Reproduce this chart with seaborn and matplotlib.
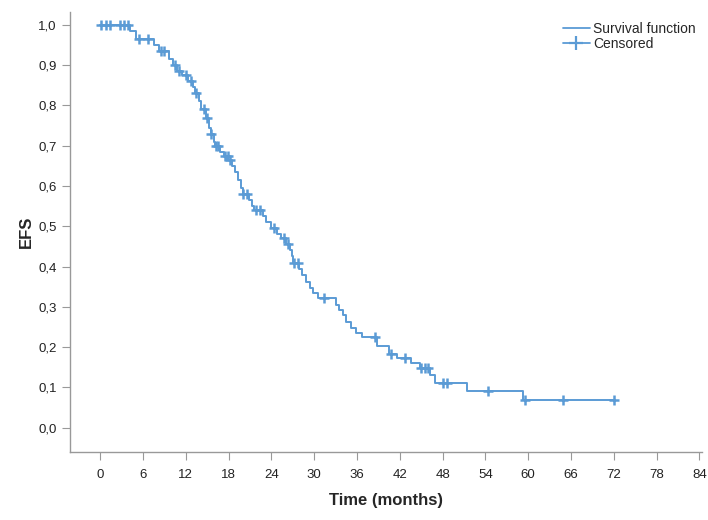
import matplotlib
matplotlib.use("Agg")
import matplotlib.pyplot as plt
import seaborn as sns
import pandas as pd
from matplotlib.lines import Line2D
from matplotlib.ticker import FuncFormatter

# Kaplan-Meier step points (time in months, survival after the step)
event_time = [0, 4.2, 5.0, 7.5, 8.2, 9.6, 10.2, 10.8, 11.5, 12.3, 13.0, 13.3,
              13.8, 14.2, 14.8, 15.3, 15.6, 15.9, 16.1, 16.8, 17.3, 17.8,
              18.5, 18.9, 19.3, 19.7, 20.0, 20.9, 21.3, 21.6, 22.8, 23.3,
              23.9, 24.8, 25.3, 26.0, 26.6, 26.9, 27.1, 27.9, 28.3, 28.8,
              29.4, 29.9, 30.5, 33.0, 33.5, 34.0, 34.5, 35.2, 35.8, 36.7,
              38.8, 40.5, 41.6, 43.6, 44.8, 46.3, 46.9, 51.4, 59.2, 72.0]
survival = [1.0, 0.985, 0.965, 0.95, 0.935, 0.915, 0.90, 0.885, 0.875, 0.86,
            0.845, 0.83, 0.81, 0.79, 0.77, 0.745, 0.73, 0.71, 0.70, 0.685,
            0.675, 0.665, 0.65, 0.635, 0.615, 0.595, 0.58, 0.565, 0.55, 0.54,
            0.525, 0.51, 0.495, 0.48, 0.47, 0.455, 0.44, 0.425, 0.41, 0.395,
            0.38, 0.362, 0.347, 0.335, 0.322, 0.305, 0.293, 0.28, 0.263,
            0.248, 0.236, 0.225, 0.203, 0.184, 0.174, 0.161, 0.149, 0.132,
            0.11, 0.09, 0.068, 0.068]

# censored observations
censor_time = [0.2, 0.8, 1.4, 2.8, 3.4, 3.9, 5.4, 6.7, 8.5, 9.0, 10.5, 11.0,
               12.0, 12.7, 13.4, 14.5, 15.0, 15.6, 16.2, 16.5, 17.5, 17.9,
               18.2, 20.1, 20.6, 21.8, 22.4, 24.4, 25.8, 26.3, 27.2, 27.7,
               31.4, 38.5, 40.8, 42.7, 45.0, 45.5, 46.0, 48.1, 48.6, 54.3,
               59.6, 64.9, 72.0]
censor_surv = [1.0, 1.0, 1.0, 1.0, 1.0, 1.0, 0.965, 0.965, 0.935, 0.935,
               0.90, 0.885, 0.875, 0.86, 0.83, 0.79, 0.77, 0.73, 0.70, 0.70,
               0.675, 0.675, 0.665, 0.58, 0.58, 0.54, 0.54, 0.495, 0.47,
               0.455, 0.41, 0.41, 0.322, 0.225, 0.184, 0.174, 0.149, 0.149,
               0.149, 0.11, 0.11, 0.09, 0.068, 0.068, 0.068]

x_ticks = list(range(0, 85, 6))
y_ticks = [i / 10 for i in range(11)]

color = "#5b9bd5"

sns.set_style("white")
plt.rcParams["font.family"] = ["Liberation Sans", "DejaVu Sans"]

km = pd.DataFrame({"time": event_time, "surv": survival})
cens = pd.DataFrame({"time": censor_time, "surv": censor_surv})

fig = plt.figure(figsize=(7.08, 5.2), dpi=100)
ax = fig.add_axes([0.099, 0.131, 0.893, 0.846])

sns.lineplot(data=km, x="time", y="surv", drawstyle="steps-post",
             color=color, linewidth=1.4, ax=ax)
sns.scatterplot(data=cens, x="time", y="surv", marker="+", s=45,
                color=color, linewidth=1.8, ax=ax, zorder=3)

ax.set_xlim(-4.2, 84.4)
ax.set_ylim(-0.06, 1.032)
ax.set_xticks(x_ticks)
ax.set_yticks(y_ticks)
ax.yaxis.set_major_formatter(FuncFormatter(lambda v, p: f"{v:.1f}".replace(".", ",")))

for side in ["top", "right"]:
    ax.spines[side].set_visible(False)
for side in ["left", "bottom"]:
    ax.spines[side].set_color("#999999")
    ax.spines[side].set_linewidth(1.0)
ax.tick_params(axis="both", direction="out", length=6, width=0.8,
               color="#999999", labelsize=9.5, labelcolor="#222222",
               bottom=True, left=True)
ax.tick_params(axis="x", pad=6)

ax.set_xlabel("Time (months)", fontsize=12, fontweight="bold", labelpad=9)
ax.set_ylabel("EFS", fontsize=12, fontweight="bold", labelpad=3)

handles = [Line2D([], [], color=color, linewidth=1.3),
           Line2D([], [], color=color, linewidth=1.3, marker="+",
                  markersize=10, markeredgewidth=1.6)]
ax.legend(handles, ["Survival function", "Censored"], loc="upper right",
          bbox_to_anchor=(1.005, 1.0), frameon=False, fontsize=10,
          handlelength=2.0, handletextpad=0.2, labelspacing=0.1,
          borderaxespad=0.3)

fig.savefig("out.png", dpi=100)
